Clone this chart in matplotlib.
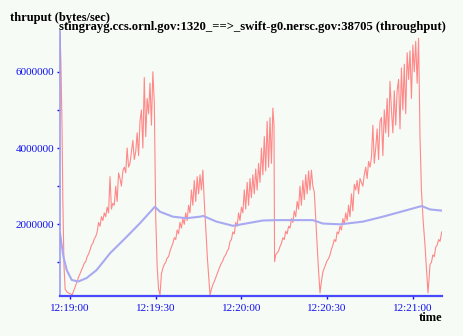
import numpy as np
import matplotlib
matplotlib.use("Agg")
import matplotlib.pyplot as plt
from matplotlib.ticker import FixedLocator

# seconds after 12:19:00, throughput in MB/s (x1e6 bytes/sec)
red_t = [-3.5, -3.2, -2.8, -2.5, -2.1, -1.7, -1.0, 0.0, 0.8,
         1.0, 1.5, 2.0, 2.5, 3.0, 3.5, 4.0, 4.5, 5.0, 5.5, 6.0, 6.5, 7.0, 7.5, 8.0, 8.5, 9.0, 9.5,
         10.0, 10.5, 11.0, 11.5, 12.0, 12.5, 13.0, 13.5, 14.0, 14.5, 15.0, 15.5, 16.0, 16.5, 17.0, 17.5,
         18.0, 18.5, 19.0, 19.5, 20.0, 20.5, 21.0, 21.5, 22.0, 22.5, 23.0, 23.5, 24.0, 24.5, 25.0, 25.5,
         26.0, 26.5, 27.0, 27.5, 28.0, 28.5, 29.0, 29.5, 30.0, 30.5, 31.0,
         31.5, 32.0, 32.5, 33.0, 33.5, 34.0, 34.5, 35.0, 35.5, 36.0, 36.5, 37.0, 37.5, 38.0, 38.5, 39.0,
         39.5, 40.0, 40.5, 41.0, 41.5, 42.0, 42.5, 43.0, 43.5, 44.0, 44.5, 45.0, 45.5, 46.0, 46.5, 47.0,
         47.3, 48.1, 49.0,
         49.5, 50.0, 50.5, 51.0, 51.5, 52.0, 52.5, 53.0, 53.5, 54.0, 54.5, 55.0, 55.5, 56.0, 56.5, 57.0,
         57.5, 58.0, 58.5, 59.0, 59.5, 60.0, 60.5, 61.0, 61.5, 62.0, 62.5, 63.0, 63.5, 64.0, 64.5, 65.0,
         65.5, 66.0, 66.5, 67.0, 67.5, 68.0, 68.5, 69.0, 69.5, 70.0, 70.5, 71.0, 71.4, 71.6,
         72.0, 72.5, 73.0, 73.5, 74.0, 74.5, 75.0, 75.5, 76.0, 76.5, 77.0, 77.5, 78.0, 78.5, 79.0, 79.5,
         80.0, 80.5, 81.0, 81.5, 82.0, 82.5, 83.0, 83.5, 84.0, 84.5, 85.0, 85.5, 86.2, 86.9, 87.5,
         88.0, 88.5, 89.0, 89.5, 90.0, 90.5, 91.0, 91.5, 92.0, 92.5, 93.0, 93.5, 94.0, 94.5, 95.0, 95.5,
         96.0, 96.5, 97.0, 97.5, 98.0, 98.5, 99.0, 99.5, 100.0, 100.5, 101.0, 101.5, 102.0, 102.5, 103.0,
         103.5, 104.0, 104.5, 105.0, 105.5, 106.0, 106.5, 107.0, 107.5, 108.0, 108.5, 109.0, 109.5, 110.0,
         110.5, 111.0, 111.5, 112.0, 112.5, 113.0, 113.5, 114.0, 114.5, 115.0, 115.5, 116.0, 116.5, 117.0,
         117.5, 118.0, 118.5, 119.0, 119.5, 120.0, 120.5, 121.0, 121.5, 122.0, 122.3,
         122.5, 123.0, 123.6, 124.2, 124.8, 125.3, 125.7, 126.0, 126.5, 127.0, 127.5, 128.0, 128.5,
         129.0, 129.5, 130.1]
red_v = [7.0, 6.3, 4.6, 2.6, 0.9, 0.3, 0.22, 0.18, 0.15,
         0.2, 0.3, 0.4, 0.5, 0.62, 0.7, 0.8, 0.88, 0.98, 1.02, 1.15, 1.22, 1.32, 1.45, 1.5, 1.62, 1.68, 1.8,
         2.05, 1.95, 2.2, 2.1, 2.3, 2.2, 2.45, 2.3, 3.25, 2.4, 2.55, 2.5, 3.0, 2.6, 3.35, 3.2,
         3.0, 3.4, 3.5, 3.35, 4.0, 3.5, 3.6, 3.9, 4.2, 3.7, 3.9, 4.4, 3.8, 4.7, 5.0, 4.0,
         5.85, 4.3, 5.3, 4.9, 5.7, 4.6, 6.0, 5.2, 2.2, 0.9, 0.3,
         0.15, 0.7, 0.85, 0.95, 1.0, 1.12, 1.15, 1.3, 1.4, 1.5, 1.65, 1.6, 1.85, 1.75, 2.05, 1.9,
         2.15, 2.0, 2.3, 2.1, 2.5, 2.3, 2.9, 2.5, 3.15, 2.6, 3.25, 2.8, 3.3, 2.9, 3.42, 2.6,
         2.2, 1.1, 0.15,
         0.3, 0.42, 0.5, 0.6, 0.7, 0.8, 0.9, 0.98, 1.05, 1.15, 1.2, 1.3, 1.35, 1.55, 1.6, 1.8,
         1.75, 2.05, 1.95, 2.3, 2.1, 2.45, 2.3, 2.9, 2.4, 3.1, 2.5, 3.2, 2.7, 3.3, 2.8, 3.45,
         2.9, 3.6, 3.1, 4.0, 3.3, 4.3, 3.4, 4.7, 3.5, 4.8, 3.6, 5.05, 4.6, 1.02,
         1.2, 1.25, 1.3, 1.42, 1.5, 1.65, 1.6, 1.82, 1.75, 1.95, 1.9, 2.15, 2.05, 2.35, 2.2, 2.6,
         2.4, 3.0, 2.5, 3.15, 2.65, 3.3, 2.8, 3.4, 2.9, 3.42, 3.0, 2.85, 1.9, 0.9, 0.2,
         0.5, 0.75, 0.85, 0.95, 1.05, 1.1, 1.2, 1.35, 1.45, 1.6, 1.55, 1.8, 1.75, 1.95, 1.85, 2.15,
         2.0, 2.3, 2.1, 2.5, 2.2, 2.8, 2.35, 3.05, 2.9, 3.15, 2.8, 3.2, 3.1, 3.0, 3.3,
         3.5, 3.2, 3.65, 3.5, 3.75, 4.6, 3.6, 4.0, 4.5, 3.7, 4.7, 4.8, 3.8, 5.0,
         4.4, 5.3, 4.3, 5.75, 5.0, 4.4, 5.5, 4.6, 5.5, 5.8, 4.5, 6.1, 5.0, 6.2,
         4.9, 6.5, 5.8, 6.55, 5.3, 6.7, 6.0, 6.8, 5.7, 6.88, 5.4,
         4.3, 2.9, 2.1, 1.5, 0.8, 0.2, 0.6, 0.95, 1.0, 1.2, 1.15, 1.4, 1.45,
         1.6, 1.55, 1.8]

blue_t = [-3.5, -2.3, -1.15, 0.6, 2.9, 5.8, 9.3, 14.0, 19.8, 24.5, 29.7, 31.5, 36.0, 40.8,
          45.5, 46.6, 51.3, 57.1, 63.0, 67.5, 72.3, 79.3, 85.0, 88.5, 94.5, 102.5, 109.5,
          117.8, 123.1, 126.0, 130.1]
blue_v = [1.76, 1.15, 0.8, 0.54, 0.5, 0.59, 0.8, 1.24, 1.67, 2.03, 2.46, 2.33, 2.2, 2.16,
          2.2, 2.22, 2.07, 1.96, 2.04, 2.1, 2.11, 2.11, 2.11, 2.02, 2.0, 2.07, 2.2,
          2.37, 2.48, 2.39, 2.36]

x_ticks = [0, 30, 60, 90, 120]
x_labels = ["12:19:00", "12:19:30", "12:20:00", "12:20:30", "12:21:00"]
y_ticks = [2000000, 4000000, 6000000]
y_labels = ["2000000", "4000000", "6000000"]

bg = "#f6fbf6"
tick_blue = "#1010ee"
serif = ["Liberation Serif", "DejaVu Serif"]

fig = plt.figure(figsize=(4.63, 3.36), dpi=100, facecolor=bg)
ax = fig.add_axes([60 / 463, 40 / 336, 382 / 463, 265 / 336], facecolor=bg)

ax.plot(red_t, np.array(red_v) * 1e6, color="#ff8888", lw=0.8)
ax.plot(blue_t, np.array(blue_v) * 1e6, color="#a9a9f2", lw=1.5)

ax.set_xlim(-3.5, 130.2)
ax.set_ylim(0.12e6, 7.07e6)

ax.set_xticks(x_ticks)
ax.set_xticklabels(x_labels)
ax.set_yticks(y_ticks)
ax.set_yticklabels(y_labels)
ax.yaxis.set_minor_locator(FixedLocator([1e6, 3e6, 5e6]))
ax.tick_params(axis="both", which="both", colors=tick_blue, length=2, width=1, pad=2)
ax.tick_params(axis="x", pad=4)
for lab in ax.get_xticklabels() + ax.get_yticklabels():
    lab.set_family(serif)
    lab.set_fontsize(8)
    lab.set_color(tick_blue)

for s in ["top", "right"]:
    ax.spines[s].set_visible(False)
ax.spines["bottom"].set_color("#4848ff")
ax.spines["bottom"].set_linewidth(1.6)
ax.spines["left"].set_color("#9d9df2")
ax.spines["left"].set_linewidth(1.2)

fig.text(10 / 463, 1 - 18 / 336, "thruput (bytes/sec)", family=serif, fontweight="bold",
         fontsize=9, va="center", ha="left")
fig.text(59 / 463, 1 - 27 / 336,
         "stingrayg.ccs.ornl.gov:1320_==>_swift-g0.nersc.gov:38705 (throughput)",
         family=serif, fontweight="bold", fontsize=9.1, va="center", ha="left")
fig.text(442 / 463, 1 - 318 / 336, "time", family=serif, fontweight="bold",
         fontsize=9, va="center", ha="right")

fig.savefig("out.png", dpi=100, facecolor=bg)
